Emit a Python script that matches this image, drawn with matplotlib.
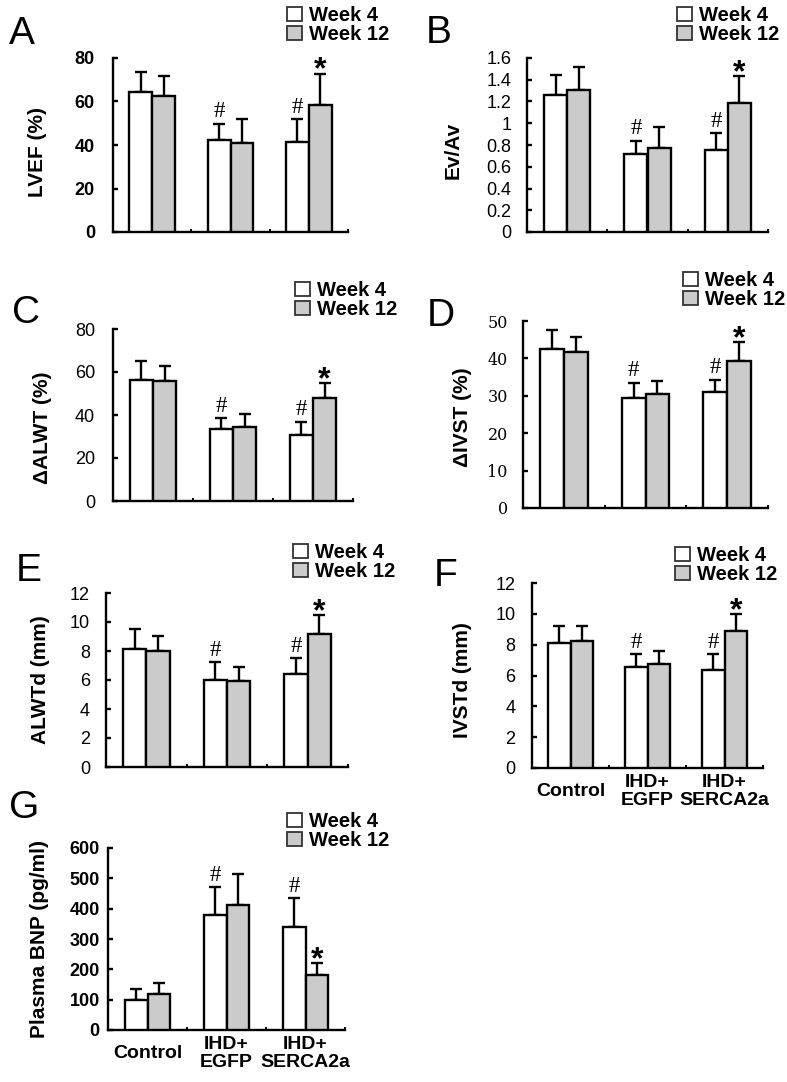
import matplotlib
matplotlib.use("Agg")
import matplotlib.pyplot as plt
import numpy as np
from matplotlib.patches import Patch

W, H = 787, 1082
DPI = 100

groups = ["Control", "IHD+\nEGFP", "IHD+\nSERCA2a"]
series_labels = ["Week 4", "Week 12"]

lvef_w4 = [64.4, 42.1, 41.5]
lvef_w4_sd = [9.2, 7.7, 10.5]
lvef_w12 = [62.7, 40.8, 58.5]
lvef_w12_sd = [9.2, 11.2, 14.3]

evav_w4 = [1.26, 0.72, 0.75]
evav_w4_sd = [0.18, 0.12, 0.16]
evav_w12 = [1.31, 0.77, 1.19]
evav_w12_sd = [0.21, 0.20, 0.24]

dalwt_w4 = [56.3, 33.5, 30.7]
dalwt_w4_sd = [8.9, 4.9, 6.2]
dalwt_w12 = [55.6, 34.2, 48.1]
dalwt_w12_sd = [7.4, 6.3, 6.7]

divst_w4 = [42.5, 29.5, 31.1]
divst_w4_sd = [5.0, 4.0, 3.2]
divst_w12 = [41.6, 30.6, 39.2]
divst_w12_sd = [4.0, 3.3, 5.2]

alwtd_w4 = [8.16, 6.02, 6.39]
alwtd_w4_sd = [1.33, 1.22, 1.13]
alwtd_w12 = [7.98, 5.95, 9.17]
alwtd_w12_sd = [1.05, 0.92, 1.29]

ivstd_w4 = [8.11, 6.53, 6.34]
ivstd_w4_sd = [1.08, 0.86, 1.05]
ivstd_w12 = [8.22, 6.72, 8.91]
ivstd_w12_sd = [0.97, 0.89, 1.08]

bnp_w4 = [99, 380, 341]
bnp_w4_sd = [36, 90, 94]
bnp_w12 = [118, 413, 181]
bnp_w12_sd = [38, 102, 39]

# significance marks: '#' on Week 4 bars, '*' on Week 12 bars
hash_groups = [1, 2]
star_groups = [2]

SANS = "Liberation Sans"
SERIF_T = "DejaVu Serif"
SERIF_M = "Liberation Serif"
LW = 1.7
GRAY = "#cbcbcb"

fig = plt.figure(figsize=(W / DPI, H / DPI), dpi=DPI)


def fx(px):
    return px / W


def fy(py):
    return 1 - py / H


def panel(letter, box, letter_pos, legend_pos, ylabel, ylabel_pos,
          w4, w4sd, w12, w12sd, ymax, ystep, tickfmt, tickfont, tickweight,
          ticksize, tickpad, show_x=False):
    l, t, r, b = box
    ax = fig.add_axes([fx(l), fy(b), fx(r) - fx(l), (b - t) / H])
    x = np.arange(len(groups))
    bw = 0.29
    ax.bar(x - bw / 2, w4, bw, color="white", edgecolor="black",
           linewidth=LW, zorder=3)
    ax.bar(x + bw / 2, w12, bw, color=GRAY, edgecolor="black",
           linewidth=LW, zorder=3)
    ax.errorbar(x - bw / 2, w4, yerr=[np.zeros(len(w4)), w4sd], fmt="none",
                ecolor="black", elinewidth=LW, capsize=4.5, capthick=LW, zorder=2)
    ax.errorbar(x + bw / 2, w12, yerr=[np.zeros(len(w12)), w12sd], fmt="none",
                ecolor="black", elinewidth=LW, capsize=4.5, capthick=LW, zorder=2)
    for g in hash_groups:
        ax.annotate("#", (x[g] - bw / 2, w4[g] + w4sd[g]), xytext=(0, 4.5),
                    textcoords="offset points", ha="center", va="baseline",
                    fontsize=16.5, family=SERIF_M)
    for g in star_groups:
        ax.annotate("*", (x[g] + bw / 2, w12[g] + w12sd[g]), xytext=(0, -3.5),
                    textcoords="offset points", ha="center", va="baseline",
                    fontsize=23, family=SANS, fontweight="bold")
    ax.set_xlim(-0.5, 2.5)
    ax.set_ylim(0, ymax)
    ticks = np.arange(0, ymax + ystep / 2, ystep)
    ax.set_yticks(ticks)
    ax.set_yticklabels([tickfmt(v) for v in ticks], family=tickfont,
                       fontweight=tickweight, fontsize=ticksize)
    ax.tick_params(axis="y", direction="in", length=3.6, width=LW, pad=tickpad)
    ax.set_xticks([0.5, 1.5, 2.5], minor=True)
    ax.tick_params(axis="x", which="minor", direction="in", length=2.2, width=1.4)
    if show_x:
        ax.set_xticks(x)
        ax.set_xticklabels(groups, family=SANS, fontweight="bold", fontsize=14,
                           va="center", linespacing=1.02)
        ax.tick_params(axis="x", which="major", length=0, pad=17)
    else:
        ax.set_xticks([])
    for s in ["top", "right"]:
        ax.spines[s].set_visible(False)
    for s in ["left", "bottom"]:
        ax.spines[s].set_linewidth(LW)
    ax.set_ylabel(ylabel, family=SANS, fontweight="bold", fontsize=15, va="center")
    ax.yaxis.set_label_coords(fx(ylabel_pos[0]), fy(ylabel_pos[1]),
                              transform=fig.transFigure)
    fig.text(fx(letter_pos[0]), fy(letter_pos[1]), letter, family=SANS,
             fontsize=28, va="baseline", ha="left")
    handles = [Patch(facecolor="white", edgecolor="#333333", linewidth=1.3),
               Patch(facecolor=GRAY, edgecolor="#333333", linewidth=1.3)]
    ax.legend(handles, series_labels, loc="upper left",
              bbox_to_anchor=(fx(legend_pos[0]), fy(legend_pos[1])),
              bbox_transform=fig.transFigure, frameon=False,
              prop={"family": SANS, "weight": "bold", "size": 14.5},
              handlelength=0.72, handleheight=0.72, handletextpad=0.35,
              labelspacing=0.0, borderpad=0, borderaxespad=0)
    return ax


def intfmt(v):
    return "%d" % round(v)


def decfmt(v):
    s = "%.1f" % v
    if s.endswith(".0"):
        s = s[:-2]
    return s


panel("A", (113, 58, 348, 232), (9, 44), (287, 6), "LVEF (%)", (37.5, 152),
      lvef_w4, lvef_w4_sd, lvef_w12, lvef_w12_sd, 80, 20, intfmt, SANS, "bold", 13, 13)
panel("B", (527, 58, 768, 232), (426, 43), (677, 6), "Ev/Av", (453, 150),
      evav_w4, evav_w4_sd, evav_w12, evav_w12_sd, 1.6, 0.2, decfmt, SANS, "normal", 13, 11)
panel("C", (113, 329, 353, 501), (12, 323), (295, 281), "ΔALWT (%)", (43, 428),
      dalwt_w4, dalwt_w4_sd, dalwt_w12, dalwt_w12_sd, 80, 20, intfmt, SANS, "normal", 13, 13)
panel("D", (523, 321, 768, 508), (427, 326), (683, 271), "ΔIVST (%)", (463, 417),
      divst_w4, divst_w4_sd, divst_w12, divst_w12_sd, 50, 10, intfmt, SERIF_T, "normal", 11.5, 11)
panel("E", (106, 593, 348, 767), (16, 581), (293, 543), "ALWTd (mm)", (40, 680),
      alwtd_w4, alwtd_w4_sd, alwtd_w12, alwtd_w12_sd, 12, 2, intfmt, SANS, "normal", 13, 11.5)
panel("F", (532, 583, 763, 768), (434, 586), (675, 546), "IVSTd (mm)", (463, 680),
      ivstd_w4, ivstd_w4_sd, ivstd_w12, ivstd_w12_sd, 12, 2, intfmt, SANS, "normal", 13, 12,
      show_x=True)
panel("G", (108, 848, 345, 1030), (9, 818), (287, 812), "Plasma BNP (pg/ml)", (40, 939),
      bnp_w4, bnp_w4_sd, bnp_w12, bnp_w12_sd, 600, 100, intfmt, SANS, "bold", 13, 6,
      show_x=True)

fig.savefig("out.png", dpi=DPI)
